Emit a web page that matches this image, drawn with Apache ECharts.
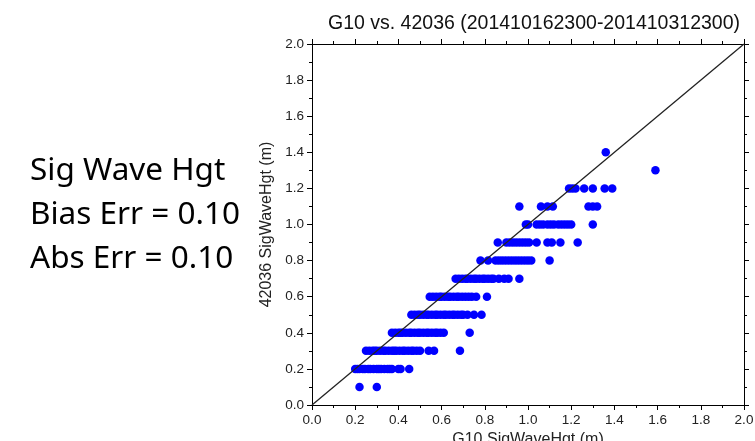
<!DOCTYPE html>
<html><head><meta charset="utf-8">
<script src="https://cdn.jsdelivr.net/npm/echarts@6/dist/echarts.min.js"></script>
<style>html,body{margin:0;padding:0;background:#fff}#c{width:755px;height:441px}</style>
</head><body><div id="c"></div>
<script>
// Observed buoy heights (y levels, m) and model (G10) heights at each level
const buoyLevels = [0.1, 0.2, 0.3, 0.4, 0.5, 0.6, 0.7, 0.8, 0.9, 1.0, 1.1, 1.2, 1.3, 1.4];
const g10At01 = [0.22, 0.30];
const g10At02 = [0.20, 0.21, 0.22, 0.235, 0.245, 0.26, 0.27, 0.285, 0.30, 0.31, 0.32, 0.335, 0.35, 0.36, 0.37, 0.40, 0.41, 0.45];
const g10At03 = [0.25, 0.265, 0.28, 0.29, 0.30, 0.315, 0.33, 0.34, 0.355, 0.37, 0.38, 0.39, 0.405, 0.42, 0.43, 0.445, 0.46, 0.47, 0.485, 0.50, 0.54, 0.565, 0.685];
const g10At04 = [0.37, 0.385, 0.40, 0.41, 0.42, 0.435, 0.45, 0.46, 0.475, 0.49, 0.50, 0.515, 0.53, 0.54, 0.555, 0.57, 0.58, 0.595, 0.61, 0.73];
const g10At05 = [0.46, 0.475, 0.49, 0.50, 0.515, 0.53, 0.54, 0.555, 0.57, 0.58, 0.595, 0.61, 0.62, 0.635, 0.65, 0.66, 0.675, 0.69, 0.70, 0.72, 0.75, 0.785];
const g10At06 = [0.545, 0.56, 0.575, 0.59, 0.60, 0.615, 0.63, 0.64, 0.655, 0.67, 0.68, 0.695, 0.71, 0.725, 0.74, 0.76, 0.81];
const g10At07 = [0.665, 0.68, 0.695, 0.71, 0.72, 0.735, 0.75, 0.76, 0.775, 0.79, 0.80, 0.815, 0.83, 0.84, 0.865, 0.89, 0.91, 0.96];
const g10At08 = [0.78, 0.815, 0.85, 0.865, 0.88, 0.895, 0.91, 0.925, 0.94, 0.955, 0.97, 0.985, 1.00, 1.015, 1.10];
const g10At09 = [0.86, 0.90, 0.915, 0.93, 0.945, 0.96, 0.975, 0.99, 1.005, 1.04, 1.09, 1.11, 1.15, 1.23];
const g10At10 = [0.99, 1.00, 1.04, 1.055, 1.07, 1.09, 1.105, 1.12, 1.14, 1.155, 1.17, 1.185, 1.20, 1.30];
const g10At11 = [0.96, 1.06, 1.09, 1.115, 1.28, 1.30, 1.32];
const g10At12 = [1.19, 1.205, 1.22, 1.26, 1.30, 1.355, 1.39];
const g10At13 = [1.59];
const g10At14 = [1.36];
const g10Rows = [g10At01, g10At02, g10At03, g10At04, g10At05, g10At06, g10At07, g10At08, g10At09, g10At10, g10At11, g10At12, g10At13, g10At14];
const axisTicks = [0.0, 0.2, 0.4, 0.6, 0.8, 1.0, 1.2, 1.4, 1.6, 1.8, 2.0];
const titleText = 'G10 vs. 42036 (201410162300-201410312300)';
const xName = 'G10 SigWaveHgt (m)';
const yName = '42036 SigWaveHgt (m)';
const statLines = ['Sig Wave Hgt', 'Bias Err = 0.10', 'Abs Err = 0.10'];
const oneToOne = [[0, 0], [2, 2]];

const points = [];
g10Rows.forEach((row, i) => row.forEach(x => points.push([x, buoyLevels[i]])));

const chart = echarts.init(document.getElementById('c'), null, {renderer: 'canvas'});
const lab = {color: '#222', fontFamily: 'Liberation Sans', fontSize: 13.5, formatter: v => v.toFixed(1)};
const axLine = {lineStyle: {color: '#000', width: 1}};
function ax(extra) {
  return Object.assign({
    type: 'value', min: axisTicks[0], max: axisTicks[axisTicks.length - 1], interval: 0.2,
    axisLine: Object.assign({onZero: false, show: true}, axLine),
    axisTick: {show: true, length: 5, inside: false, lineStyle: {color: '#000'}},
    minorTick: {show: true, splitNumber: 2, length: 3, lineStyle: {color: '#000'}},
    splitLine: {show: false}
  }, extra);
}
chart.setOption({
  animation: false,
  backgroundColor: '#fff',
  title: {text: titleText, left: 529, textAlign: 'center', top: 9,
    textStyle: {fontFamily: 'Liberation Sans', fontSize: 19.5, fontWeight: 'normal', color: '#111'}},
  grid: {left: 312, right: 11, top: 44, bottom: 36, containLabel: false, outerBoundsMode: 'none'},
  xAxis: [
    ax({position: 'bottom', axisLabel: Object.assign({margin: 8}, lab),
      name: xName, nameLocation: 'middle', nameGap: 26,
      nameTextStyle: {fontFamily: 'Liberation Sans', fontSize: 16, color: '#222'}}),
    ax({position: 'top', axisLabel: {show: false}})
  ],
  yAxis: [
    ax({position: 'left', axisLabel: Object.assign({margin: 8}, lab),
      name: yName, nameLocation: 'middle', nameGap: 34, nameRotate: 90,
      nameTextStyle: {fontFamily: 'Liberation Sans', fontSize: 16, color: '#222'}}),
    ax({position: 'right', axisLabel: {show: false}})
  ],
  graphic: statLines.map((t, i) => ({
    type: 'text', left: 30, top: 155 + i * 44,
    style: {text: t, fontFamily: 'Noto Sans', fontSize: 31.5, fill: '#000'}
  })),
  series: [
    {type: 'line', data: oneToOne, symbol: 'none', lineStyle: {color: '#222', width: 1.3}, z: 3},
    {type: 'scatter', data: points, symbol: 'circle', symbolSize: 8.5,
      itemStyle: {color: '#0000ff', opacity: 1}, z: 2}
  ]
});
</script></body></html>
